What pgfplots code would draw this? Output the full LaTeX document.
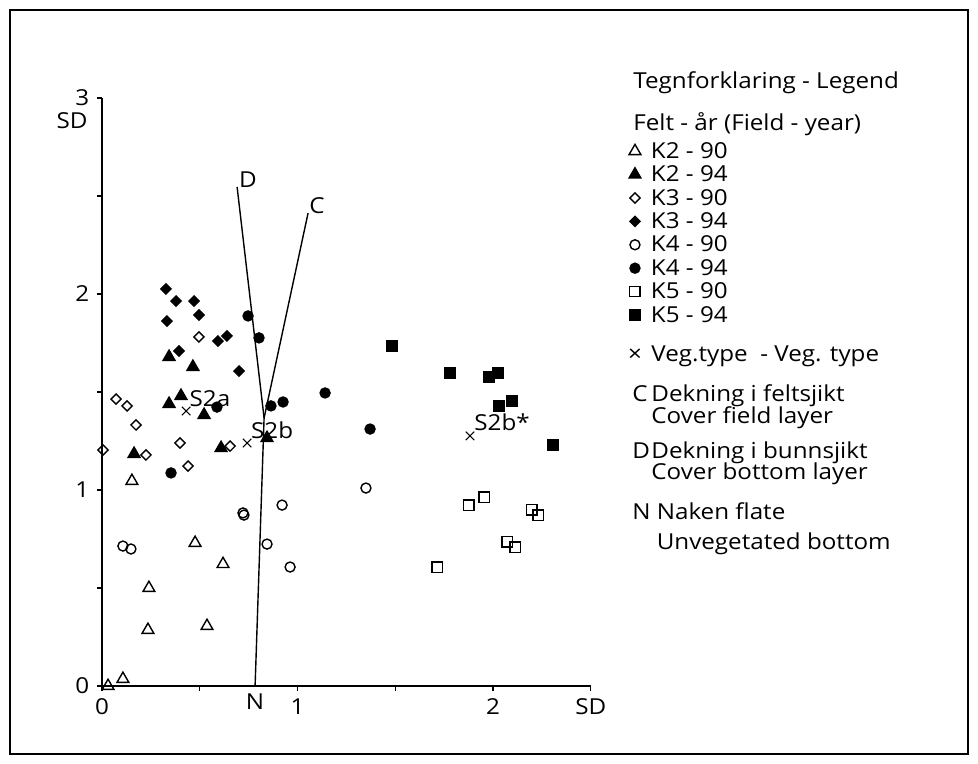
\documentclass[border=0pt]{standalone}
\usepackage{pgfplots}
\pgfplotsset{compat=1.18}
\usepackage{fontspec}
\setmainfont{Open Sans}[FakeStretch=1.1]
\begin{document}
\fontsize{11}{13}\selectfont
\begin{tikzpicture}[font=\fontsize{11}{13}\selectfont]
\begin{axis}[
  at={(0pt,0pt)}, anchor=south west,
  scale only axis, width=244.4pt, height=294pt,
  xmin=0, xmax=2.5, ymin=0, ymax=3,
  axis lines*=left, axis line style={-, line width=0.6pt},
  tick align=outside, major tick length=2.5pt,
  tick style={line width=0.6pt, black},
  xtick={0,0.5,1,1.5,2,2.5}, xticklabels={0,,1,,2,SD},
  ytick={0,0.5,1,1.5,2,2.5,3}, yticklabels={0,,1,,2,,3},
  extra x ticks={0.783}, extra x tick labels={N}, extra x tick style={major tick length=0pt},
  clip=false,
  legend cell align=left,
  legend image code/.code={\path[draw=none,fill=none] (-4pt,0pt) (4pt,0pt); \draw[#1,overlay] plot coordinates {(0pt,0.6pt)};},
  legend style={draw=none, fill=none, at={(axis description cs:1.0740,0.9245)}, anchor=north west,
    inner sep=0pt, outer sep=0pt, row sep=1.7pt, column sep=4pt,
    nodes={inner sep=0pt, text height=8pt, text depth=2pt, font=\fontsize{11}{13}\selectfont}},
]
% biplot lines
\addplot[forget plot, line width=0.7pt] coordinates {(0.783,0) (0.829,1.367) (0.691,2.546)};
\addplot[forget plot, line width=0.7pt] coordinates {(0.829,1.367) (1.054,2.413)};
% K2-90
\addplot[only marks, black, mark=triangle, mark size=3.4pt, mark options={line width=0.7pt}] coordinates {
(0.153,1.046) (0.476,0.730) (0.619,0.622) (0.240,0.500) (0.235,0.286) (0.537,0.306) (0.031,0.000) (0.107,0.036)};
\addlegendentry{K2 - 90}
% K2-94
\addplot[only marks, black, mark=triangle*, mark size=3.4pt, mark options={line width=0.7pt}] coordinates {
(0.343,1.679) (0.465,1.628) (0.404,1.480) (0.343,1.439) (0.522,1.383) (0.609,1.214) (0.164,1.184) (0.844,1.265)};
\addlegendentry{K2 - 94}
% K3-90
\addplot[only marks, black, mark=square, mark size=1.8pt, mark options={rotate=45, line width=0.7pt}] coordinates {
(0.496,1.781) (0.072,1.464) (0.128,1.429) (0.174,1.332) (0.399,1.240) (0.655,1.224) (0.225,1.179) (0.005,1.204) (0.440,1.122)};
\addlegendentry{K3 - 90}
% K3-94
\addplot[only marks, black, mark=square*, mark size=1.8pt, mark options={rotate=45, line width=0.7pt}] coordinates {
(0.327,2.026) (0.379,1.964) (0.471,1.964) (0.332,1.862) (0.496,1.893) (0.593,1.760) (0.639,1.786) (0.394,1.709) (0.701,1.607)};
\addlegendentry{K3 - 94}
% K4-90
\addplot[only marks, black, mark=o, mark size=2.5pt, mark options={line width=0.7pt}] coordinates {
(0.107,0.714) (0.148,0.699) (0.721,0.883) (0.726,0.872) (0.921,0.923) (0.844,0.724) (0.962,0.607) (1.350,1.010)};
\addlegendentry{K4 - 90}
% K4-94
\addplot[only marks, black, mark=*, mark size=2.5pt, mark options={line width=0.7pt}] coordinates {
(0.747,1.888) (0.803,1.776) (0.588,1.423) (0.864,1.429) (0.926,1.449) (0.353,1.087) (1.141,1.495) (1.371,1.311)};
\addlegendentry{K4 - 94}
% K5-90
\addplot[only marks, black, mark=square, mark size=2.6pt, mark options={line width=0.7pt}] coordinates {
(1.877,0.923) (1.954,0.964) (2.199,0.898) (2.230,0.872) (2.072,0.735) (2.113,0.709) (1.714,0.607)};
\addlegendentry{K5 - 90}
% K5-94
\addplot[only marks, black, mark=square*, mark size=2.6pt, mark options={line width=0.7pt}] coordinates {
(1.483,1.735) (1.780,1.597) (1.980,1.577) (2.026,1.597) (2.031,1.429) (2.097,1.454) (2.307,1.230)};
\addlegendentry{K5 - 94}
% vegetation types
\addplot[forget plot, only marks, black, mark=x, mark size=3pt, mark options={line width=0.55pt}] coordinates {
(0.430,1.403) (0.742,1.240) (1.882,1.276)};
\node at (axis cs:0.552,1.464) {S2a};
\node at (axis cs:0.870,1.306) {S2b};
\node at (axis cs:2.046,1.347) {S2b*};
\node at (axis cs:0.747,2.582) {D};
\node at (axis cs:1.100,2.449) {C};
\end{axis}
\node[anchor=east, inner sep=0pt] at (-7pt,282.5pt) {SD};
\node[anchor=base west, inner sep=0pt] at (265.5pt,298.8pt) {Tegnforklaring - Legend};
\node[anchor=base west, inner sep=0pt] at (265.5pt,277.7pt) {Felt - år (Field - year)};
\node[anchor=base, inner sep=0pt] at (266.5pt,162.2pt) {×};
\node[anchor=base west, inner sep=0pt] at (274.5pt,162.2pt) {Veg.type\ \ - Veg. type};
\node[anchor=base west, inner sep=0pt] at (265pt,142.2pt) {C};
\node[anchor=base west, inner sep=0pt] at (274.5pt,142.2pt) {Dekning i feltsjikt};
\node[anchor=base west, inner sep=0pt] at (274.5pt,131.3pt) {Cover field layer};
\node[anchor=base west, inner sep=0pt] at (265pt,113.8pt) {D};
\node[anchor=base west, inner sep=0pt] at (274.5pt,113.8pt) {Dekning i bunnsjikt};
\node[anchor=base west, inner sep=0pt] at (274.5pt,103.3pt) {Cover bottom layer};
\node[anchor=base west, inner sep=0pt] at (265pt,83pt) {N};
\node[anchor=base west, inner sep=0pt] at (277.2pt,83pt) {Naken flate};
\node[anchor=base west, inner sep=0pt] at (277.2pt,68pt) {Unvegetated bottom};
\draw[line width=0.7pt] (-46pt,-34pt) rectangle (433pt,338pt);
\pgfresetboundingbox
\path[use as bounding box] (-51pt,-39pt) rectangle (438pt,343pt);
\end{tikzpicture}
\end{document}
